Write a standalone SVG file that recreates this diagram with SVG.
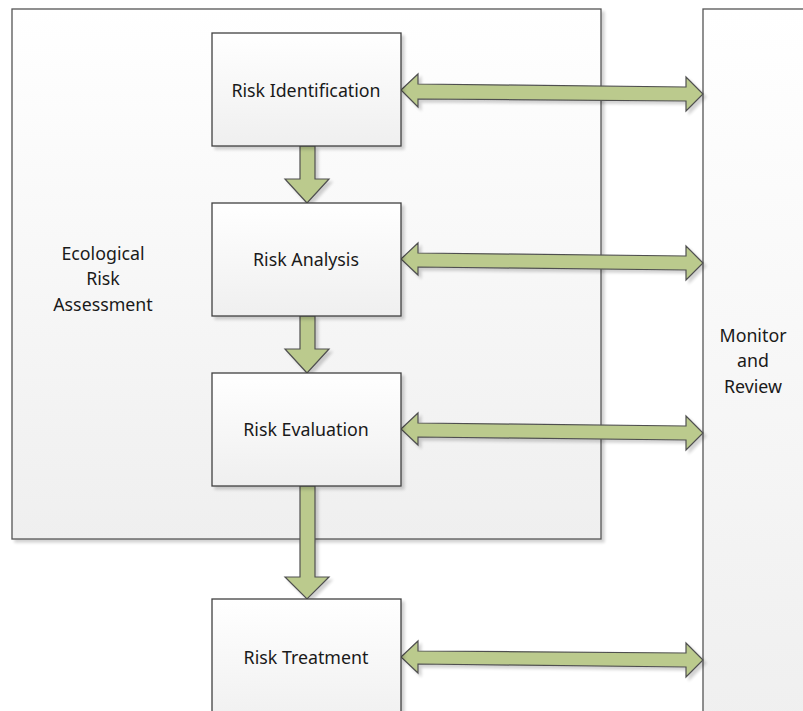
<svg xmlns="http://www.w3.org/2000/svg" width="803" height="711" viewBox="0 0 803 711">
<defs>
<linearGradient id="g" x1="0" y1="0" x2="0" y2="1"><stop offset="0" stop-color="#ffffff"/><stop offset="1" stop-color="#efefef"/></linearGradient>
<filter id="sh" x="-10%" y="-10%" width="130%" height="130%"><feGaussianBlur in="SourceAlpha" stdDeviation="1.5"/><feOffset dx="3" dy="3"/><feComponentTransfer><feFuncA type="linear" slope="0.18"/></feComponentTransfer><feMerge><feMergeNode/><feMergeNode in="SourceGraphic"/></feMerge></filter>
</defs>
<style>
.box{fill:url(#g);stroke:#404040;stroke-width:1.3;filter:url(#sh)}
.big{fill:url(#g);stroke:#555;stroke-width:1.3;filter:url(#sh)}
.ar{fill:#bbca8d;stroke:#505050;stroke-width:1.2;filter:url(#sh)}
text{font-family:"Noto Sans","Open Sans",sans-serif;font-size:17.8px;fill:#1a1a1a;text-anchor:middle}
</style>
<rect width="803" height="711" fill="#ffffff"/>
<g id="ecological-risk-assessment">
<rect class="big" x="12" y="9" width="589" height="530"/>
<text x="103" y="260">Ecological</text>
<text x="103" y="285">Risk</text>
<text x="103" y="311">Assessment</text>
</g>
<g id="monitor-and-review">
<rect class="big" x="703" y="9" width="120" height="720"/>
<text x="753" y="342">Monitor</text>
<text x="753" y="367">and</text>
<text x="753" y="393">Review</text>
</g>
<g id="connectors">
<path class="ar" d="M300 146 H315 V179 H329 L307 203 L285 179 H300 Z"/>
<path class="ar" d="M300 316 H315 V349 H329 L307 373 L285 349 H300 Z"/>
<path class="ar" d="M300 486 H315 V577 H329 L307 599 L285 577 H300 Z"/>
<path class="ar" d="M401 90 L418 74 V84 L686 87 V77 L703 94 L686 111 V101 L418 99 V107 Z"/>
<path class="ar" d="M401 259 L418 243 V253 L686 256 V246 L703 263 L686 280 V270 L418 267 V275 Z"/>
<path class="ar" d="M401 429 L418 413 V423 L686 426 V416 L703 433 L686 450 V440 L418 437 V445 Z"/>
<path class="ar" d="M401 657 L418 641 V651 L686 653 V643 L703 660 L686 677 V667 L418 664 V673 Z"/>
</g>
<g id="risk-identification">
<rect class="box" x="212" y="33" width="189" height="113"/>
<text x="306" y="97">Risk Identification</text>
</g>
<g id="risk-analysis">
<rect class="box" x="212" y="203" width="189" height="113"/>
<text x="306" y="266">Risk Analysis</text>
</g>
<g id="risk-evaluation">
<rect class="box" x="212" y="373" width="189" height="113"/>
<text x="306" y="436">Risk Evaluation</text>
</g>
<g id="risk-treatment">
<rect class="box" x="212" y="599" width="189" height="130"/>
<text x="306" y="664">Risk Treatment</text>
</g>
</svg>
